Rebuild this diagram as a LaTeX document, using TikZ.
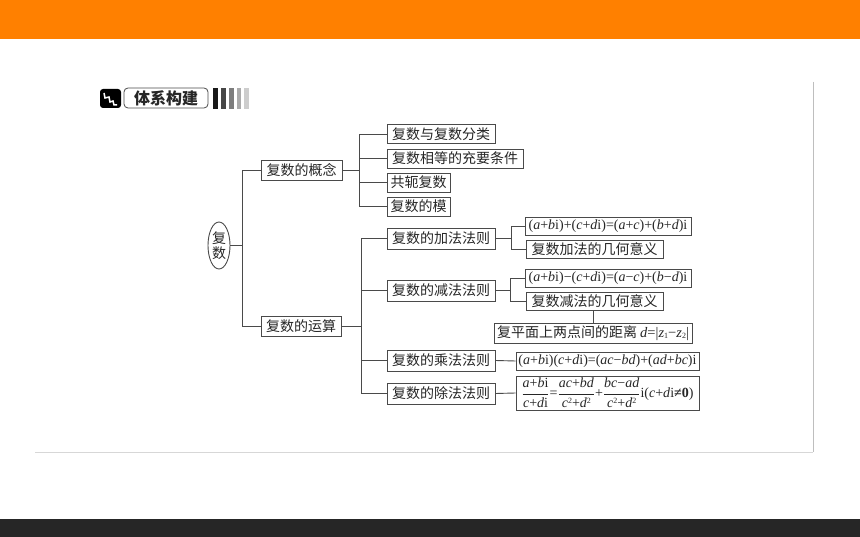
\documentclass[tikz,border=0pt]{standalone}
\usepackage{fontspec}
\setmainfont{Liberation Serif}
\newfontfamily\cjk{Noto Sans CJK SC}
\usetikzlibrary{shapes.geometric}
\definecolor{lineg}{HTML}{4A4A4A}
\definecolor{inkc}{HTML}{262626}
\definecolor{orangebar}{RGB}{255,128,0}
\definecolor{darkbar}{RGB}{38,38,38}
\definecolor{frameA}{RGB}{190,190,190}
\definecolor{frameB}{RGB}{215,215,215}
\definecolor{barA}{RGB}{25,25,25}
\definecolor{barB}{RGB}{70,70,70}
\definecolor{barC}{RGB}{125,125,125}
\definecolor{barD}{RGB}{170,170,170}
\definecolor{barE}{RGB}{205,205,205}
\newcommand{\vi}[1]{\textit{#1}}
\newcommand{\sm}[1]{\raisebox{-1.5pt}{\fontsize{8}{8}\selectfont #1}}
\newcommand{\su}[1]{\raisebox{4pt}{\fontsize{8}{8}\selectfont #1}}
\newcommand{\fr}[2]{$\displaystyle\frac{\hbox{#1}}{\hbox{#2}}$}
\tikzset{
  x=1pt,y=-1pt,
  bx/.style={draw=lineg,line width=0.9pt,fill=white,inner sep=0pt,text=inkc,font=\cjk\fontsize{14}{15}\selectfont,anchor=center},
  fm/.style={bx,font=\fontsize{14}{15}\selectfont},
  lk/.style={draw=lineg,line width=0.9pt},
  frameline/.style={draw=#1,line width=0.9pt}
}
\begin{document}
\begin{tikzpicture}
\useasboundingbox (0,0) rectangle (860,537);
\fill[white] (0,0) rectangle (860,537);
\fill[orangebar] (0,0) rectangle (860,39);
\fill[darkbar] (0,519) rectangle (860,537);
\draw[frameline=frameA] (813,82) -- (813,452);
\draw[frameline=frameB] (35,452) -- (813,452);
% header badge
\fill[black,rounded corners=3pt] (100,89) rectangle (121,108);
\draw[white,line width=1.5pt] (104,93) -- (105,98) -- (109,97) -- (110,102) -- (113,101) -- (114,105) -- (117,105);
\node[draw=lineg,line width=0.8pt,rounded corners=4pt,minimum width=84pt,minimum height=20pt,inner sep=0pt,text=inkc,font=\cjk\bfseries\fontsize{16}{17}\selectfont] (title) at (166,98) {体系构建};
\fill[barA] (213,88) rectangle (217.5,109);
\fill[barB] (221,88) rectangle (226,109);
\fill[barC] (229,88) rectangle (233.5,109);
\fill[barD] (236.5,88) rectangle (241,109);
\fill[barE] (244,88) rectangle (249,109);
% nodes
\node[bx,ellipse,minimum width=22pt,minimum height=47pt,align=center,font=\cjk\fontsize{14}{15}\selectfont] (root) at (219,245.5) {复\\数};
\node[bx,minimum width=81pt,minimum height=20pt] (gn) at (301.5,170) {复数的概念};
\node[bx,minimum width=80pt,minimum height=20pt] (ys) at (301,326) {复数的运算};
\node[bx,minimum width=108pt,minimum height=19pt] (a1) at (441,134) {复数与复数分类};
\node[bx,minimum width=136pt,minimum height=19pt] (a2) at (455,158.5) {复数相等的充要条件};
\node[bx,minimum width=63pt,minimum height=19pt] (a3) at (418.5,182.5) {共轭复数};
\node[bx,minimum width=63pt,minimum height=19pt] (a4) at (418.5,206.5) {复数的模};
\node[bx,minimum width=108pt,minimum height=21pt] (b1) at (441,238.5) {复数的加法法则};
\node[bx,minimum width=108pt,minimum height=21pt] (b2) at (441,290.5) {复数的减法法则};
\node[bx,minimum width=108pt,minimum height=21pt] (b3) at (441,360.5) {复数的乘法法则};
\node[bx,minimum width=108pt,minimum height=21pt] (b4) at (441,393.5) {复数的除法法则};
\node[fm,minimum width=166pt,minimum height=18pt] (c1) at (608,226) {(\vi{a}+\vi{b}i)+(\vi{c}+\vi{d}i)=(\vi{a}+\vi{c})+(\vi{b}+\vi{d})i};
\node[bx,minimum width=137pt,minimum height=18pt] (c2) at (594.5,249) {复数加法的几何意义};
\node[fm,minimum width=166pt,minimum height=18pt] (c3) at (608,278) {(\vi{a}+\vi{b}i)−(\vi{c}+\vi{d}i)=(\vi{a}−\vi{c})+(\vi{b}−\vi{d})i};
\node[bx,minimum width=137pt,minimum height=18pt] (c4) at (594.5,301) {复数减法的几何意义};
\node[bx,minimum width=198pt,minimum height=20pt] (c5) at (593,333) {复平面上两点间的距离 {\fontspec{Liberation Serif}\fontsize{14.5}{15}\selectfont\vi{d}=|\vi{z}\sm{1}−\vi{z}\sm{2}|}};
\node[fm,minimum width=183pt,minimum height=18pt] (c6) at (607.5,361) {(\vi{a}+\vi{b}i)(\vi{c}+\vi{d}i)=(\vi{ac}−\vi{bd})+(\vi{ad}+\vi{bc})i};
\node[fm,minimum width=183pt,minimum height=34pt] (c7) at (607.5,393) {\fr{\vi{a}+\vi{b}i}{\vi{c}+\vi{d}i}=\fr{\vi{ac}+\vi{bd}}{\vi{c}\su{2}+\vi{d}\su{2}}+\fr{\vi{bc}−\vi{ad}}{\vi{c}\su{2}+\vi{d}\su{2}}i(\vi{c}+\vi{d}i\textbf{≠0})};
% bus points
\coordinate (t) at (242,245.5);
\coordinate (m1) at (359,170);
\coordinate (m2) at (361,326);
\coordinate (n1) at (511,238.5);
\coordinate (n2) at (510,290.5);
% connectors
\draw[lk] (root.east) -- (t);
\draw[lk] (t) |- (gn.west);
\draw[lk] (t) |- (ys.west);
\draw[lk] (gn.east) -- (m1);
\draw[lk] (m1) |- (a1.west);
\draw[lk] (m1) |- (a2.west);
\draw[lk] (m1) |- (a3.west);
\draw[lk] (m1) |- (a4.west);
\draw[lk] (ys.east) -- (m2);
\draw[lk] (m2) |- (b1.west);
\draw[lk] (m2) |- (b2.west);
\draw[lk] (m2) |- (b3.west);
\draw[lk] (m2) |- (b4.west);
\draw[lk] (b1.east) -- (n1);
\draw[lk] (n1) |- (c1.west);
\draw[lk] (n1) |- (c2.west);
\draw[lk] (b2.east) -- (n2);
\draw[lk] (n2) |- (c3.west);
\draw[lk] (n2) |- (c4.west);
\draw[lk] (c5.north) -- (c5.north |- c4.south);
\draw[lk] (b3.east) -- (c6.west);
\draw[lk] (b4.east) -- (c7.west);
\end{tikzpicture}
\end{document}
